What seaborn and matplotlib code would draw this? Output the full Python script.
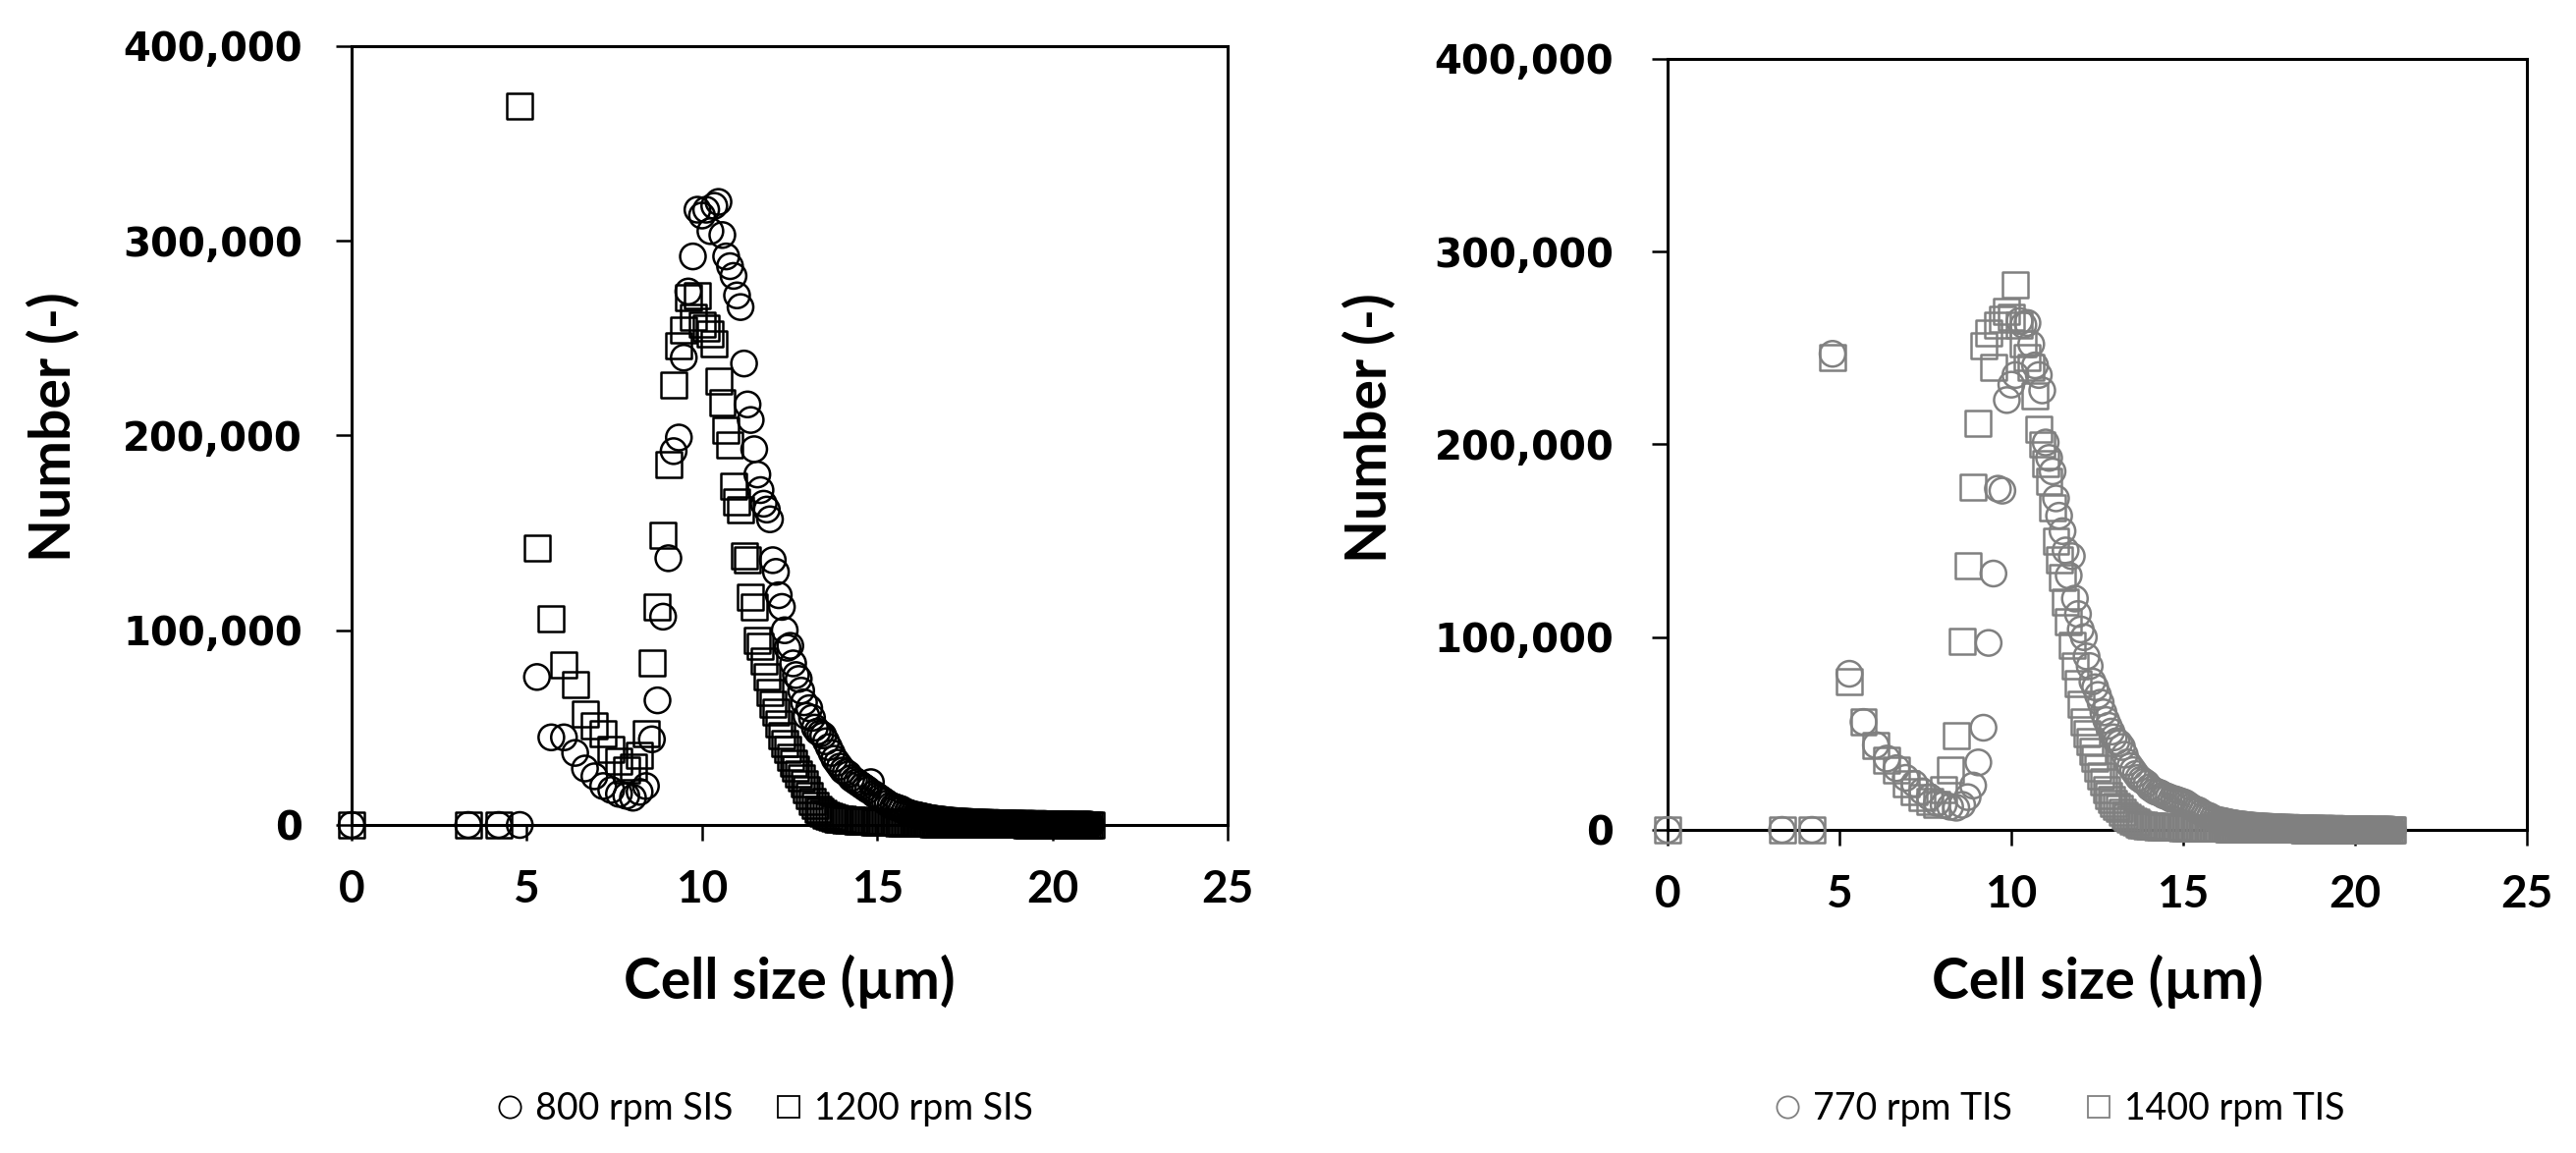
import numpy as np
import matplotlib
matplotlib.use("Agg")
import matplotlib.pyplot as plt
import seaborn as sns
from matplotlib.lines import Line2D

# ---------------- data ----------------
# cell-size bins (µm), shared by all four series
SIZE_UM = [
    0.00, 3.33, 4.20, 4.80, 5.29, 5.70, 6.06, 6.38, 6.66, 6.93,
    7.18, 7.41, 7.63, 7.84, 8.03, 8.22, 8.40, 8.57, 8.73, 8.89,
    9.04, 9.19, 9.34, 9.48, 9.61, 9.74, 9.87, 10.00, 10.12, 10.24,
    10.35, 10.47, 10.58, 10.69, 10.80, 10.90, 11.00, 11.10, 11.20, 11.30,
    11.39, 11.49, 11.58, 11.67, 11.76, 11.85, 11.94, 12.02, 12.11, 12.19,
    12.28, 12.36, 12.44, 12.52, 12.60, 12.68, 12.76, 12.83, 12.91, 12.98,
    13.06, 13.14, 13.22, 13.30, 13.38, 13.46, 13.54, 13.62, 13.70, 13.78,
    13.86, 13.94, 14.02, 14.10, 14.18, 14.26, 14.34, 14.42, 14.50, 14.58,
    14.66, 14.74, 14.82, 14.90, 14.98, 15.06, 15.14, 15.22, 15.30, 15.38,
    15.46, 15.54, 15.62, 15.70, 15.78, 15.86, 15.94, 16.02,
    16.10, 16.15, 16.20, 16.25, 16.30, 16.35, 16.40, 16.45, 16.50, 16.55,
    16.60, 16.65, 16.70, 16.75, 16.80, 16.85, 16.90, 16.95, 17.00, 17.05,
    17.10, 17.15, 17.20, 17.25, 17.30, 17.35, 17.40, 17.45, 17.50, 17.55,
    17.60, 17.65, 17.70, 17.75, 17.80, 17.85, 17.90, 17.95, 18.00, 18.05,
    18.10, 18.15, 18.20, 18.25, 18.30, 18.35, 18.40, 18.45, 18.50, 18.55,
    18.60, 18.65, 18.70, 18.75, 18.80, 18.85, 18.90, 18.95, 19.00, 19.05,
    19.10, 19.15, 19.20, 19.25, 19.30, 19.35, 19.40, 19.45, 19.50, 19.55,
    19.60, 19.65, 19.70, 19.75, 19.80, 19.85, 19.90, 19.95, 20.00, 20.05,
    20.10, 20.15, 20.20, 20.25, 20.30, 20.35, 20.40, 20.45, 20.50, 20.55,
    20.60, 20.65, 20.70, 20.75, 20.80, 20.85, 20.90, 20.95, 21.00, 21.05,
    21.10,
]

# cell numbers, in thousands
N_800_SIS_K = [
    0, 0, 0, 0, 76, 45, 45, 37, 29, 25,
    20, 18, 16, 15, 14, 17, 20, 44, 64, 107,
    137, 192, 199, 240, 274, 292, 316, 313, 316, 305,
    318, 320, 303, 292, 287, 282, 272, 266, 237, 216,
    208, 193, 180, 172, 165, 162, 157, 136, 130, 118,
    112, 100, 91, 92, 83, 77, 75, 69, 63, 56,
    60, 55, 50, 48, 47, 46, 43, 40, 37, 34,
    32, 30, 28, 27, 26, 24, 23, 22, 21, 20,
    19, 18, 22, 16, 15, 14, 13, 12, 11, 10,
    9.5, 9, 8.5, 8, 7, 6.5, 6, 5.5,
    5.2, 5.0, 4.8, 4.6, 4.4, 4.2, 4.0, 3.8, 3.6, 3.4,
    3.3, 3.2, 3.0, 2.9, 2.8, 2.7, 2.6, 2.5, 2.4, 2.3,
    2.2, 2.1, 2.0, 2.0, 1.9, 1.8, 1.8, 1.7, 1.7, 1.6,
    1.6, 1.5, 1.5, 1.4, 1.4, 1.3, 1.3, 1.3, 1.2, 1.2,
    1.2, 1.1, 1.1, 1.1, 1.0, 1.0, 1.0, 1.0, 0.9, 0.9,
    0.9, 0.9, 0.8, 0.8, 0.8, 0.8, 0.8, 0.7, 0.7, 0.7,
    0.7, 0.7, 0.6, 0.6, 0.6, 0.6, 0.6, 0.6, 0.5, 0.5,
    0.5, 0.5, 0.5, 0.5, 0.5, 0.4, 0.4, 0.4, 0.4, 0.4,
    0.4, 0.4, 0.3, 0.3, 0.3, 0.3, 0.3, 0.3, 0.3, 0.3,
    0.2, 0.2, 0.2, 0.2, 0.2, 0.2, 0.2, 0.2, 0.2, 0.2,
    0.1,
]

N_1200_SIS_K = [
    0, 0, 0, 369, 142, 106, 82, 72, 57, 51,
    47, 39, 33, 28, 30, 36, 47, 83, 112, 149,
    185, 226, 246, 254, 271, 261, 272, 257, 255, 252,
    247, 228, 217, 203, 195, 174, 166, 162, 138, 136,
    117, 112, 95, 92, 84, 76, 68, 62, 58, 52,
    46, 42, 39, 35, 32, 29, 26, 24, 21, 18,
    15, 12, 10, 8, 7, 6, 5, 4.5, 4, 3.5,
    3.2, 3.0, 2.8, 2.6, 2.5, 2.4, 2.3, 2.2, 2.1, 2.0,
    1.9, 1.8, 1.8, 1.7, 1.6, 1.6, 1.5, 1.5, 1.4, 1.4,
    1.3, 1.3, 1.2, 1.2, 1.2, 1.1, 1.1, 1.0,
    1.0, 1.0, 0.9, 0.9, 0.9, 0.9, 0.8, 0.8, 0.8, 0.8,
    0.7, 0.7, 0.7, 0.7, 0.6, 0.6, 0.6, 0.6, 0.6, 0.6,
    0.5, 0.5, 0.5, 0.5, 0.5, 0.5, 0.5, 0.5, 0.5, 0.5,
    0.5, 0.5, 0.4, 0.4, 0.4, 0.4, 0.4, 0.4, 0.4, 0.4,
    0.4, 0.4, 0.4, 0.4, 0.4, 0.3, 0.3, 0.3, 0.3, 0.3,
    0.3, 0.3, 0.3, 0.3, 0.3, 0.3, 0.3, 0.3, 0.3, 0.3,
    0.3, 0.3, 0.3, 0.2, 0.2, 0.2, 0.2, 0.2, 0.2, 0.2,
    0.2, 0.2, 0.2, 0.2, 0.2, 0.2, 0.2, 0.2, 0.2, 0.2,
    0.2, 0.2, 0.2, 0.2, 0.2, 0.1, 0.1, 0.1, 0.1, 0.1,
    0.1, 0.1, 0.1, 0.1, 0.1, 0.1, 0.1, 0.1, 0.1, 0.1,
    0.1,
]

N_770_TIS_K = [
    0, 0, 0, 247, 81, 56, 44, 37, 32, 27,
    24, 20, 17, 14, 13, 12, 11.5, 13, 17, 23,
    35, 53, 97, 133, 177, 176, 223, 231, 236, 264,
    262, 263, 252, 241, 236, 228, 201, 193, 186, 172,
    163, 155, 145, 132, 142, 120, 112, 104, 100, 90,
    85, 77, 74, 70, 66, 61, 57, 54, 51, 48,
    46, 45, 43, 39, 35, 33, 31, 29, 27, 26,
    25, 24, 22, 21, 20, 19.5, 19, 18, 17.5, 17,
    16, 16, 15.5, 15, 14.5, 14, 13, 12, 11, 10.5,
    10, 9, 8, 7.5, 7, 6, 5.5, 5,
    4.8, 4.6, 4.4, 4.2, 4.0, 3.8, 3.6, 3.5, 3.3, 3.2,
    3.0, 2.9, 2.8, 2.7, 2.6, 2.5, 2.4, 2.3, 2.2, 2.1,
    2.0, 2.0, 1.9, 1.8, 1.8, 1.7, 1.7, 1.6, 1.6, 1.5,
    1.5, 1.4, 1.4, 1.4, 1.3, 1.3, 1.2, 1.2, 1.2, 1.1,
    1.1, 1.1, 1.0, 1.0, 1.0, 1.0, 0.9, 0.9, 0.9, 0.9,
    0.8, 0.8, 0.8, 0.8, 0.8, 0.7, 0.7, 0.7, 0.7, 0.7,
    0.6, 0.6, 0.6, 0.6, 0.6, 0.6, 0.5, 0.5, 0.5, 0.5,
    0.5, 0.5, 0.4, 0.4, 0.4, 0.4, 0.4, 0.4, 0.4, 0.3,
    0.3, 0.3, 0.3, 0.3, 0.3, 0.3, 0.3, 0.3, 0.2, 0.2,
    0.2, 0.2, 0.2, 0.2, 0.2, 0.2, 0.2, 0.2, 0.1, 0.1,
    0.1,
]

N_1400_TIS_K = [
    0, 0, 0, 245, 77, 56, 44, 36, 31, 24,
    20, 17, 15, 13, 21, 31, 49, 98, 137, 178,
    211, 251, 258, 240, 262, 265, 269, 266, 283, 262,
    252, 245, 240, 225, 208, 200, 190, 181, 167, 150,
    140, 131, 118, 108, 96, 85, 76, 65, 56, 50,
    46, 41, 37, 32, 28, 25, 21, 18, 16, 14,
    12, 11, 9, 7.5, 6.5, 5.5, 4.8, 4, 3.2, 2.6,
    2.3, 2.1, 2.0, 1.9, 1.8, 1.7, 1.6, 1.6, 1.5, 1.5,
    1.4, 1.4, 1.3, 1.3, 1.2, 1.2, 1.2, 1.1, 1.1, 1.1,
    1.0, 1.0, 1.0, 0.9, 0.9, 0.9, 0.9, 0.8,
    0.8, 0.8, 0.8, 0.8, 0.7, 0.7, 0.7, 0.7, 0.7, 0.6,
    0.6, 0.6, 0.6, 0.6, 0.6, 0.5, 0.5, 0.5, 0.5, 0.5,
    0.5, 0.5, 0.5, 0.4, 0.4, 0.4, 0.4, 0.4, 0.4, 0.4,
    0.4, 0.4, 0.4, 0.4, 0.3, 0.3, 0.3, 0.3, 0.3, 0.3,
    0.3, 0.3, 0.3, 0.3, 0.3, 0.3, 0.3, 0.3, 0.2, 0.2,
    0.2, 0.2, 0.2, 0.2, 0.2, 0.2, 0.2, 0.2, 0.2, 0.2,
    0.2, 0.2, 0.2, 0.2, 0.2, 0.2, 0.2, 0.2, 0.2, 0.1,
    0.1, 0.1, 0.1, 0.1, 0.1, 0.1, 0.1, 0.1, 0.1, 0.1,
    0.1, 0.1, 0.1, 0.1, 0.1, 0.1, 0.1, 0.1, 0.1, 0.1,
    0.1, 0.1, 0.1, 0.1, 0.1, 0.1, 0.1, 0.1, 0.1, 0.1,
    0.1,
]

X_TICKS = [0, 5, 10, 15, 20, 25]
Y_TICKS = [0, 100000, 200000, 300000, 400000]
LEGEND_LEFT = ["800 rpm SIS", "1200 rpm SIS"]
LEGEND_RIGHT = ["770 rpm TIS", "1400 rpm TIS"]
X_LABEL = "Cell size (µm)"
Y_LABEL = "Number (-)"

# ---------------- style ----------------
sns.set_style("ticks")
plt.rcParams["font.family"] = ["Lato", "DejaVu Sans"]

W, H = 2623, 1174
fig = plt.figure(figsize=(W / 100, H / 100), dpi=100)


def ax_rect(x0, x1, ytop, ybot):
    return [x0 / W, 1 - ybot / H, (x1 - x0) / W, (ybot - ytop) / H]


ax1 = fig.add_axes(ax_rect(358, 1250, 47, 840))
ax2 = fig.add_axes(ax_rect(1698, 2573, 60, 845))

GREY = "#808080"
MS = 350
MLW = 1.8


def draw(ax, y_circ, y_sq, color):
    x = np.asarray(SIZE_UM)
    sns.scatterplot(x=x, y=np.asarray(y_circ) * 1000, marker="o", s=MS,
                    facecolor="none", edgecolor=color, linewidth=MLW,
                    ax=ax, clip_on=False, zorder=3, legend=False)
    sns.scatterplot(x=x, y=np.asarray(y_sq) * 1000, marker="s", s=MS,
                    facecolor="none", edgecolor=color, linewidth=MLW,
                    ax=ax, clip_on=False, zorder=3, legend=False)


def style(ax, ypad, lab_x, lab_y, xlab_y):
    ax.set_xlim(0, 25)
    ax.set_ylim(0, 400000)
    for s in ax.spines.values():
        s.set_visible(True)
        s.set_color("black")
        s.set_linewidth(2.2)
    ax.set_xticks(X_TICKS)
    ax.set_yticks(Y_TICKS)
    ax.set_xticklabels([str(v) for v in X_TICKS], fontfamily="Lato",
                       fontweight="bold", fontsize=33)
    ax.set_yticklabels([f"{v:,}" for v in Y_TICKS], fontfamily="DejaVu Sans",
                       fontweight="bold", fontsize=29)
    ax.tick_params(axis="both", direction="out", length=11.5, width=1.8,
                   color="black", labelcolor="black")
    ax.tick_params(axis="y", pad=ypad)
    ax.tick_params(axis="x", pad=21)
    ax.set_xlabel(X_LABEL, fontsize=41, fontweight="bold", fontfamily="Lato",
                  va="center", color="black")
    ax.set_ylabel(Y_LABEL, fontsize=41, fontweight="bold", fontfamily="Lato",
                  va="center", color="black")
    ax.xaxis.set_label_coords(0.5, xlab_y)
    ax.yaxis.set_label_coords(lab_x, lab_y)
    ax.grid(False)


draw(ax1, N_800_SIS_K, N_1200_SIS_K, "black")
draw(ax2, N_770_TIS_K, N_1400_TIS_K, GREY)
style(ax1, 24.5, (55 - 358) / 892, 0.511, (840 - 999) / 793)
style(ax2, 28, (1395 - 1698) / 875, 0.522, (845 - 999) / 785)


def handles(color):
    kw = dict(linestyle="none", markersize=16, markerfacecolor="none",
              markeredgecolor=color, markeredgewidth=1.3)
    return [Line2D([], [], marker="o", **kw), Line2D([], [], marker="s", **kw)]


fig.legend(handles("black"), LEGEND_LEFT, loc="center",
           bbox_to_anchor=(778 / W, 1 - 1129 / H), ncol=2, frameon=False,
           prop={"family": "Lato", "size": 27}, handlelength=0.8,
           handletextpad=0.3, columnspacing=1.1, borderpad=0, labelcolor="black")
fig.legend(handles(GREY), LEGEND_RIGHT, loc="center",
           bbox_to_anchor=(2096 / W, 1 - 1129 / H), ncol=2, frameon=False,
           prop={"family": "Lato", "size": 27}, handlelength=0.8,
           handletextpad=0.3, columnspacing=1.95, borderpad=0, labelcolor="black")

fig.savefig("out.png", dpi=100, facecolor="white")
